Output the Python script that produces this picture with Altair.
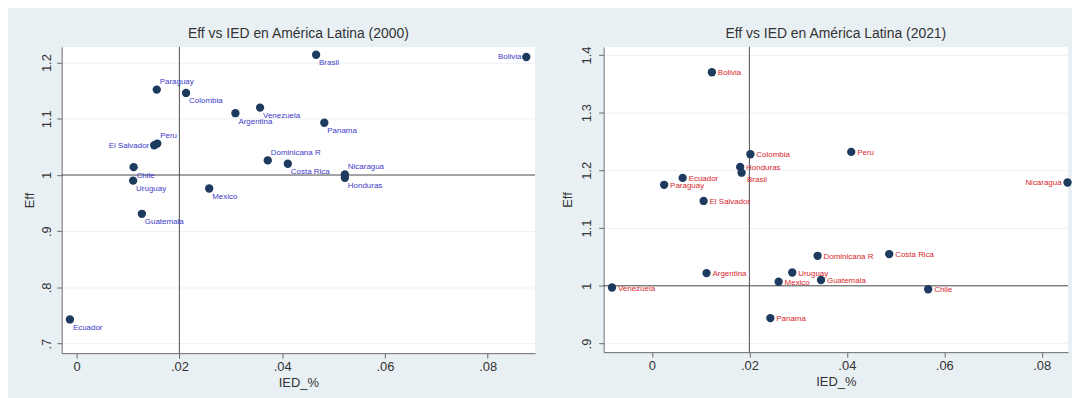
import altair as alt
import pandas as pd

# ---------------- data ----------------
COUNTRIES_2000 = ["Bolivia", "Brasil", "Paraguay", "Colombia", "Argentina", "Venezuela",
                  "Panama", "Peru", "El Salvador", "Dominicana R", "Costa Rica", "Nicaragua",
                  "Honduras", "Chile", "Uruguay", "Mexico", "Guatemala", "Ecuador"]
IED_2000 = [0.0875, 0.0466, 0.0156, 0.0213, 0.0309, 0.0357,
            0.0482, 0.0157, 0.0151, 0.0372, 0.0411, 0.0522,
            0.0522, 0.0111, 0.0110, 0.0258, 0.0127, -0.0013]
EFF_2000 = [1.210, 1.214, 1.152, 1.146, 1.110, 1.120,
            1.093, 1.056, 1.053, 1.026, 1.020, 1.001,
            0.995, 1.014, 0.990, 0.976, 0.931, 0.743]

COUNTRIES_2021 = ["Bolivia", "Colombia", "Peru", "Honduras", "Brasil", "Ecuador",
                  "Paraguay", "Nicaragua", "El Salvador", "Dominicana R", "Costa Rica", "Argentina",
                  "Uruguay", "Guatemala", "Mexico", "Venezuela", "Chile", "Panama"]
IED_2021 = [0.0123, 0.0202, 0.0409, 0.0181, 0.0184, 0.0063,
            0.0025, 0.0853, 0.0106, 0.0340, 0.0487, 0.0112,
            0.0288, 0.0347, 0.0260, -0.0082, 0.0567, 0.0243]
EFF_2021 = [1.370, 1.228, 1.232, 1.206, 1.196, 1.187,
            1.175, 1.179, 1.147, 1.052, 1.055, 1.022,
            1.023, 1.010, 1.007, 0.997, 0.994, 0.944]

X_TICKS = [0, 0.02, 0.04, 0.06, 0.08]
Y_TICKS_2000 = [0.7, 0.8, 0.9, 1.0, 1.1, 1.2]
Y_TICKS_2021 = [0.9, 1.0, 1.1, 1.2, 1.3, 1.4]
REF_X = 0.02
REF_Y = 1.0

TITLE_2000 = "Eff vs IED en América Latina (2000)"
TITLE_2021 = "Eff vs IED en América Latina (2021)"

# marker-label placement groups (which side of the marker the label sits on)
ABOVE_2000 = ["Paraguay", "Peru", "Dominicana R", "Nicaragua"]
LEFT_2000 = ["Bolivia", "El Salvador"]
BELOW_2021 = ["Brasil"]
LEFT_2021 = ["Nicaragua"]

# ---------------- style ----------------
FONT = "Liberation Sans"
BG = "#e9f0f3"
GRID = "#edf1f4"
AXIS_C = "#6a6a6a"
TXT = "#333333"
DOT = "#1d3a5f"
BLUE = "#3d3ac8"
RED = "#d8262b"

LABEL_EXPR = "replace(format(datum.value, '.2~f'), '0.', '.')"


def make_df(names, xs, ys, above, left, below):
    pos = []
    for n in names:
        if n in above:
            pos.append("above")
        elif n in left:
            pos.append("left")
        elif n in below:
            pos.append("below")
        else:
            pos.append("default")
    return pd.DataFrame({"pais": names, "IED": xs, "Eff": ys, "pos": pos})


def panel(df, title, xdom, ydom, yticks, w, h, lab_color, placements,
          y_label_pad, y_extent, y_title_pad):
    x_enc = alt.X("IED:Q", title="IED_%",
                  scale=alt.Scale(domain=xdom, nice=False, zero=False),
                  axis=alt.Axis(values=X_TICKS, labelExpr=LABEL_EXPR, grid=False,
                                tickSize=5, labelPadding=2, titlePadding=4,
                                domainColor=AXIS_C, tickColor=AXIS_C,
                                labelFont=FONT, titleFont=FONT,
                                labelFontSize=13, titleFontSize=13,
                                labelColor=TXT, titleColor=TXT,
                                titleFontWeight="normal", labelFlush=False,
                                labelOverlap=False))
    y_enc = alt.Y("Eff:Q", title="Eff",
                  scale=alt.Scale(domain=ydom, nice=False, zero=False),
                  axis=alt.Axis(values=yticks, labelExpr=LABEL_EXPR, grid=True,
                                gridColor=GRID, gridWidth=1,
                                labelAngle=270, labelAlign="center", labelBaseline="bottom",
                                tickSize=5, labelPadding=y_label_pad,
                                minExtent=y_extent, maxExtent=y_extent,
                                titlePadding=y_title_pad,
                                domainColor=AXIS_C, tickColor=AXIS_C,
                                labelFont=FONT, titleFont=FONT,
                                labelFontSize=13, titleFontSize=13,
                                labelColor=TXT, titleColor=TXT,
                                titleFontWeight="normal", labelOverlap=False))

    vline = alt.Chart(pd.DataFrame({"IED": [REF_X]})).mark_rule(
        color="#505050", strokeWidth=1).encode(x=x_enc)
    hline = alt.Chart(pd.DataFrame({"Eff": [REF_Y]})).mark_rule(
        color="#505050", strokeWidth=1).encode(y=y_enc)

    base = alt.Chart(df)
    pts = base.mark_circle(size=70, color=DOT, opacity=1).encode(x=x_enc, y=y_enc)

    layers = [vline, hline, pts]
    for pos, (align, dx, dy) in placements.items():
        layers.append(
            base.transform_filter(alt.datum.pos == pos).mark_text(
                align=align, baseline="middle", dx=dx, dy=dy,
                font=FONT, fontSize=8, color=lab_color
            ).encode(x=x_enc, y=y_enc, text="pais:N")
        )

    return alt.layer(*layers).properties(
        width=w, height=h,
        title=alt.TitleParams(text=title, font=FONT, fontSize=14, fontWeight="normal",
                              color=TXT, offset=5),
    )


df2000 = make_df(COUNTRIES_2000, IED_2000, EFF_2000, ABOVE_2000, LEFT_2000, [])
df2021 = make_df(COUNTRIES_2021, IED_2021, EFF_2021, [], LEFT_2021, BELOW_2021)

left = panel(df2000, TITLE_2000, [-0.0029, 0.0892], [0.683, 1.228], Y_TICKS_2000,
             476, 308, BLUE,
             {"default": ("left", 3, 8.5), "above": ("left", 3, -7.5),
              "left": ("right", -5, 0.5)},
             3, 20, 5.5)
right = panel(df2021, TITLE_2021, [-0.00992, 0.0854], [0.885, 1.414], Y_TICKS_2021,
              467, 307, RED,
              {"default": ("left", 6, 1), "below": ("left", 5.5, 7.5),
               "left": ("right", -6, 1)},
              5, 22, 7.5)

chart = alt.hconcat(left, right, spacing=25).properties(
    background=BG,
    padding={"left": 15, "top": 18, "right": 0, "bottom": 8},
).configure_view(fill="white", strokeWidth=0)

chart.save("out.html", embed_options={"renderer": "svg", "actions": False})
